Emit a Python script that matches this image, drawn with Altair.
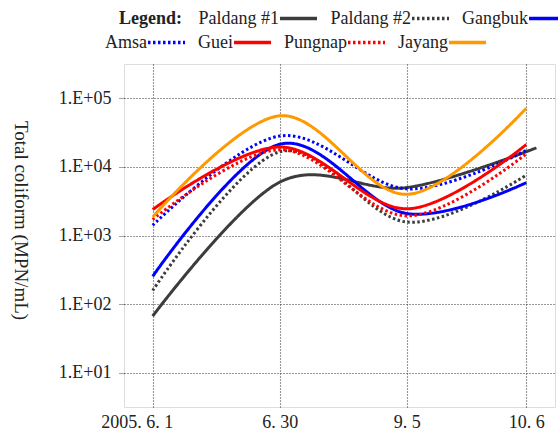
import altair as alt
import pandas as pd

# Sampling sites and sampling dates
sites = ["Paldang #1", "Paldang #2", "Gangbuk", "Amsa", "Guei", "Pungnap", "Jayang"]
date_labels = ["2005. 6. 1", "6. 30", "9. 5", "10. 6"]
date_pos = [0, 1, 2, 2.94]
# Paldang #1 was sampled a little later in October
paldang1_pos = [0, 1, 2, 3.02]

# Total coliform (MPN/mL) per site, in sampling order
paldang1 = [67, 6000, 5000, 19000]
paldang2 = [158, 16600, 1570, 7600]
gangbuk = [254, 21400, 2090, 5900]
amsa = [1410, 28200, 4790, 17400]
guei = [2390, 19500, 2450, 21200]
pungnap = [1710, 17800, 1930, 15500]
jayang = [1860, 55600, 3980, 71800]

series = [paldang1, paldang2, gangbuk, amsa, guei, pungnap, jayang]
positions = [paldang1_pos] + [date_pos] * 6

rows = []
for site, vals, xs in zip(sites, series, positions):
    for x, v in zip(xs, vals):
        rows.append({"site": site, "x": x, "coliform": v})
df = pd.DataFrame(rows)

# Styling: the first legend entry only carries the "Legend:" caption
legend_key = "Legend:"
domain = [legend_key] + sites
colors = ["transparent", "#3c3c3c", "#3c3c3c", "#0000ff", "#0000ff",
          "#ff0000", "#ff0000", "#ff9900"]
solid = [1, 0]
dotted = [2.5, 2.5]
dashes = [solid, solid, dotted, solid, dotted, solid, dotted, solid]

font = "Liberation Serif"
is_caption = f"datum.value == '{legend_key}'"

legend = alt.Legend(
    title=None,
    orient="none",
    legendX=22,
    legendY=-66,
    direction="horizontal",
    columns=4,
    gridAlign="none",
    columnPadding=6,
    rowPadding=-6,
    padding=0,
    symbolType="stroke",
    symbolSize=1369,
    symbolStrokeWidth=3.5,
    labelFont=font,
    labelFontSize=18,
    labelColor="#222222",
    labelAlign="right",
    labelBaseline="middle",
    # labels sit to the left of their keys; the caption covers its blank key
    labelOffset=alt.ExprRef(expr=f"{is_caption} ? -5 : -40"),
    labelFontWeight=alt.ExprRef(expr=f"{is_caption} ? 'bold' : 'normal'"),
)

label_expr = " : ".join(
    f"datum.value == {p} ? '{lab}'" for p, lab in zip(date_pos, date_labels)
) + " : ''"

x_axis = alt.Axis(
    values=date_pos,
    labelExpr=label_expr,
    title=None,
    domain=False,
    ticks=False,
    grid=True,
    gridColor="#333333",
    gridDash=[1, 2],
    gridWidth=1.1,
    labelFont=font,
    labelFontSize=18,
    labelColor="#222222",
    labelPadding=6,
    labelBaseline="top",
    labelAlign={"condition": {"test": "datum.value == 0", "value": "right"}, "value": "center"},
    labelOffset={"condition": {"test": "datum.value == 0", "value": 20}, "value": 0},
    labelOverlap=False,
)

y_axis = alt.Axis(
    values=[10, 100, 1000, 10000, 100000],
    labelExpr="'1.E+0' + round(log(datum.value) / LN10)",
    title="Total coliform (MPN/mL)",
    titleAngle=90,
    titleX=-104,
    titleY=156,
    titleAlign="center",
    titleBaseline="middle",
    titleFont=font,
    titleFontSize=19,
    titleFontWeight="normal",
    titleColor="#222222",
    domain=False,
    ticks=True,
    tickSize=5,
    tickColor="#444444",
    tickDash=[1, 1],
    grid=True,
    gridColor="#333333",
    gridDash=[1, 2],
    gridWidth=1.1,
    labelFont=font,
    labelFontSize=18,
    labelColor="#222222",
    labelPadding=8,
)

chart = (
    alt.Chart(df)
    .mark_line(interpolate="cardinal", tension=0, strokeWidth=3)
    .encode(
        x=alt.X("x:Q", axis=x_axis,
                scale=alt.Scale(domain=[-0.226, 3.166], nice=False, zero=False)),
        y=alt.Y("coliform:Q", axis=y_axis,
                scale=alt.Scale(type="log", domain=[10 ** 0.5, 10 ** 5.5], nice=False)),
        color=alt.Color("site:N", scale=alt.Scale(domain=domain, range=colors), legend=legend),
        strokeDash=alt.StrokeDash("site:N", scale=alt.Scale(domain=domain, range=dashes), legend=legend),
    )
    .properties(
        width=431,
        height=343,
        autosize="none",
        padding={"left": 124, "top": 64, "right": 3, "bottom": 30},
    )
    .configure_view(stroke="#333333", strokeWidth=1.5)
    .configure(background="white")
)

chart.save("out.html", embed_options={"renderer": "svg", "actions": False})
